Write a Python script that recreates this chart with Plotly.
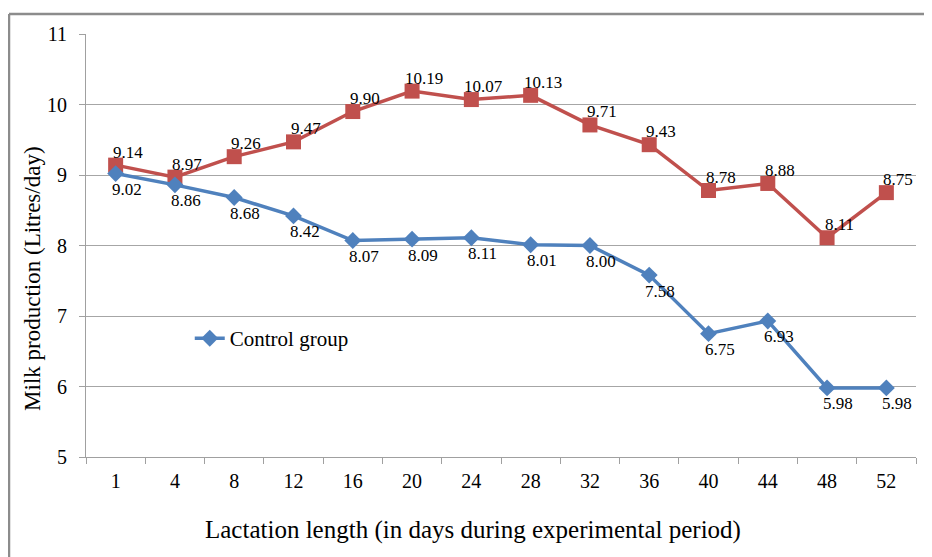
import plotly.graph_objects as go

days = ["1", "4", "8", "12", "16", "20", "24", "28", "32", "36", "40", "44", "48", "52"]
control = [9.02, 8.86, 8.68, 8.42, 8.07, 8.09, 8.11, 8.01, 8.00, 7.58, 6.75, 6.93, 5.98, 5.98]
treatment = [9.14, 8.97, 9.26, 9.47, 9.90, 10.19, 10.07, 10.13, 9.71, 9.43, 8.78, 8.88, 8.11, 8.75]

x_title = "Lactation length (in days during experimental period)"
y_title = "Milk production (Litres/day)"

font = "Liberation Serif"

fig = go.Figure()
fig.add_trace(go.Scatter(
    x=days, y=treatment, name="Treatment group", mode="lines+markers",
    line=dict(color="#C0504D", width=3.5),
    marker=dict(symbol="square", size=15, color="#C0504D"),
    showlegend=False, cliponaxis=False,
))
fig.add_trace(go.Scatter(
    x=days, y=control, name="Control group", mode="lines+markers",
    line=dict(color="#4F81BD", width=3.5),
    marker=dict(symbol="diamond", size=13, color="#4F81BD"),
    cliponaxis=False,
))

annotations = []
for i, v in enumerate(treatment):
    annotations.append(dict(x=i, y=v, text=f"{v:.2f}", showarrow=False,
                            xshift=12, yshift=13, font=dict(family=font, size=17, color="black")))
for i, v in enumerate(control):
    annotations.append(dict(x=i, y=v, text=f"{v:.2f}", showarrow=False,
                            xshift=11, yshift=-16, font=dict(family=font, size=17, color="black")))

# axis titles
annotations.append(dict(xref="paper", yref="paper", x=0.466, y=-0.1726,
                        xanchor="center", yanchor="middle", showarrow=False,
                        text=x_title, font=dict(family=font, size=25, color="black")))
annotations.append(dict(xref="paper", yref="paper", x=-0.0639, y=0.421,
                        xanchor="center", yanchor="middle", showarrow=False, textangle=-90,
                        text=y_title, font=dict(family=font, size=23, color="black")))

fig.update_layout(
    width=932, height=557,
    margin=dict(l=78, r=24, t=26, b=108),
    paper_bgcolor="white", plot_bgcolor="white",
    font=dict(family=font, size=20, color="black"),
    annotations=annotations,
    legend=dict(x=0.125, y=0.28, xanchor="left", yanchor="middle",
                bgcolor="rgba(0,0,0,0)", font=dict(family=font, size=21)),
    xaxis=dict(
        type="category",
        range=[-0.5, 13.5], automargin=False,
        showgrid=False, showline=True, linecolor="#A0A0A0", linewidth=1,
        ticks="outside", tickson="boundaries", ticklen=6, tickcolor="#A0A0A0",
        tickfont=dict(family=font, size=20), ticklabelstandoff=6,
    ),
    yaxis=dict(
        range=[5, 11], dtick=1, showgrid=True, gridcolor="#A6A6A6", gridwidth=1,
        automargin=False,
        showline=True, linecolor="#A0A0A0", linewidth=1,
        ticks="outside", ticklen=6, tickcolor="#A0A0A0",
        tickfont=dict(family=font, size=20), zeroline=False, ticklabelstandoff=8,
    ),
)

# outer frame (top and left edges)
y_top = (449 - 6) / 423
x_left = (1 - 78) / 830
fig.add_shape(type="line", xref="paper", yref="paper",
              x0=x_left, x1=1.05, y0=y_top, y1=y_top,
              line=dict(color="#8C8C8C", width=2.5))
fig.add_shape(type="line", xref="paper", yref="paper",
              x0=x_left, x1=x_left, y0=y_top, y1=-0.3,
              line=dict(color="#8C8C8C", width=2.5))

fig.write_html("out.html")
